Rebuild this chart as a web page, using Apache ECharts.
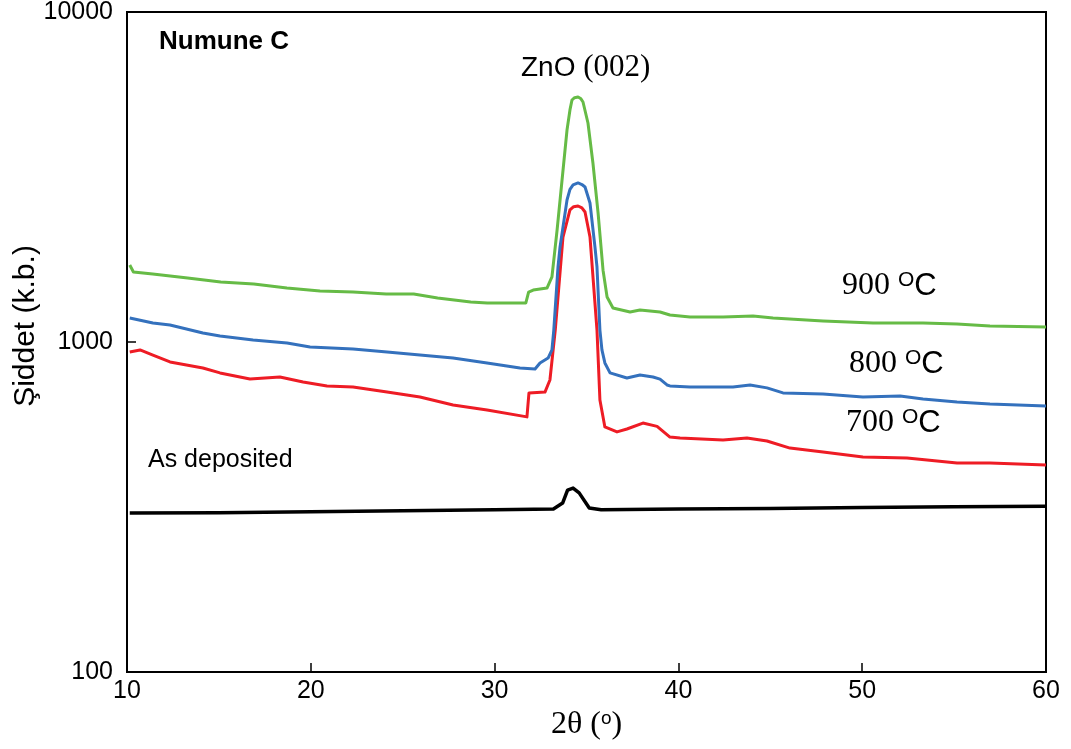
<!DOCTYPE html>
<html>
<head>
<meta charset="utf-8">
<script src="https://cdn.jsdelivr.net/npm/echarts@6/dist/echarts.min.js"></script>
<style>
	html,body{margin:0;padding:0;background:#fff;}
	#chart{width:1071px;height:749px;}
</style>
</head>
<body>
<div id="chart"></div>
<script>
'use strict'
// 2θ (derece), şiddet (k.b.)
let xTicks = [10, 20, 30, 40, 50, 60],
	yTicks = [100, 1000, 10000];

let s900 = [[10.15,1711],[10.35,1630],[11.4,1607],[13.3,1563],[15.1,1520],[16.9,1499],[18.7,1457],[20.5,1427],[22.3,1417],[24.1,1398],[25.6,1398],[26.9,1360],[28.7,1322],[29.6,1313],[31.7,1313],[31.85,1417],[32.1,1437],[32.85,1457],[33.12,1574],[33.4,2185],[33.67,3097],[33.94,4390],[34.1,5050],[34.21,5412],[34.35,5500],[34.54,5526],[34.68,5470],[34.81,5337],[35.08,4610],[35.35,3487],[35.63,2460],[35.9,1650],[36.12,1369],[36.44,1268],[37.37,1233],[37.91,1250],[39.0,1233],[39.54,1207],[40.63,1191],[42.43,1191],[44.06,1199],[45.15,1182],[47.87,1158],[50.59,1142],[53.31,1142],[55.16,1134],[56.95,1118],[60,1110]];

let s800 = [[10.15,1182],[11.41,1142],[12.34,1126],[14.13,1065],[15.06,1043],[16.86,1014],[18.71,993],[19.96,966],[22.3,952],[24.15,933],[25.94,913],[27.74,894],[29.59,864],[31.38,834],[32.2,828],[32.47,864],[32.91,894],[33.12,946],[33.22,1087],[33.45,1688],[33.56,1941],[33.94,2693],[34.1,2900],[34.27,2991],[34.54,3033],[34.75,3000],[34.92,2950],[35.19,2638],[35.46,1941],[35.57,1688],[35.73,1087],[35.84,946],[36.0,864],[36.28,806],[37.2,778],[37.91,794],[38.62,783],[39.0,772],[39.38,741],[39.54,736],[40.63,731],[42.97,731],[43.9,741],[44.82,726],[45.69,701],[47.87,696],[50.04,681],[52.06,686],[53.31,672],[55.16,658],[56.95,649],[60,640]];

let s700 = [[10.15,933],[10.71,946],[11.41,913],[12.34,870],[14.13,834],[15.06,806],[16.69,772],[18.32,783],[19.58,756],[20.88,736],[22.3,731],[24.15,705],[25.94,681],[27.74,644],[29.59,622],[31.76,593],[31.87,701],[32.74,705],[33.01,767],[33.3,1087],[33.72,2080],[34.1,2512],[34.3,2570],[34.54,2583],[34.75,2550],[34.92,2477],[35.19,2080],[35.57,1087],[35.73,667],[36.0,553],[36.66,534],[37.2,545],[38.07,568],[38.84,555],[39.54,515],[40.09,512],[42.43,505],[43.73,512],[44.82,501],[46.07,477],[47.87,464],[50.04,448],[52.44,445],[55.16,430],[56.95,430],[60,424]];

let sDep = [[10.15,303],[15,304],[20,306],[25,308],[30,310],[33.2,312],[33.7,325],[33.97,356],[34.27,361],[34.6,349],[35.15,314],[35.8,310],[40,312],[45,313],[50,315],[55,317],[60,318]];

let sans = 'Liberation Sans',
	serif = 'Liberation Serif';

let chart = echarts.init(document.getElementById('chart'));

function lineSeries(name, data, color, width){
	return {
		name: name,
		type: 'line',
		data: data,
		showSymbol: false,
		symbol: 'none',
		smooth: false,
		animation: false,
		lineStyle: {color: color, width: width, join: 'round'},
		z: 3
	}
}

// sıcaklık etiketi (üst simge O)
function tempLabel(txt, x, y){
	return {
		type: 'text',
		x: x, y: y,
		style: {
			text: `{n|${txt} }{s|O}{c|C}`,
			rich: {
				n: {fontFamily: serif, fontSize: 32, fill: '#000', verticalAlign: 'bottom'},
				s: {fontFamily: sans, fontSize: 21, fill: '#000', verticalAlign: 'top'},
				c: {fontFamily: sans, fontSize: 31, fill: '#000', verticalAlign: 'bottom'}
			},
			verticalAlign: 'middle'
		}
	}
}

let option = {
	backgroundColor: '#fff',
	animation: false,
	grid: {
		left: 127, right: 25, top: 12, bottom: 77,
		show: true,
		borderColor: '#000',
		borderWidth: 2,
		containLabel: false,
		outerBoundsMode: 'none'
	},
	xAxis: {
		type: 'value',
		min: xTicks[0],
		max: xTicks[xTicks.length-1],
		interval: 10,
		name: '{a|2θ (}{b|o}{a|)}',
		nameLocation: 'middle',
		nameGap: 32,
		nameTextStyle: {
			rich: {
				a: {fontFamily: serif, fontSize: 32, color: '#000', verticalAlign: 'bottom'},
				b: {fontFamily: sans, fontSize: 19, color: '#000', verticalAlign: 'top'}
			}
		},
		axisLine: {show: true, lineStyle: {color: '#000', width: 2}},
		axisTick: {show: true, inside: true, length: 9, lineStyle: {color: '#000', width: 1.5}},
		axisLabel: {fontFamily: sans, fontSize: 25, color: '#000', margin: 7},
		splitLine: {show: false}
	},
	yAxis: {
		type: 'log',
		logBase: 10,
		min: yTicks[0],
		max: yTicks[yTicks.length-1],
		axisLine: {show: true, lineStyle: {color: '#000', width: 2}},
		axisTick: {show: true, inside: true, length: 9, lineStyle: {color: '#000', width: 1.5}},
		minorTick: {show: false},
		axisLabel: {
			fontFamily: sans, fontSize: 25, color: '#000', margin: 14,
			formatter: (v)=> String(Math.round(v))
		},
		splitLine: {show: false}
	},
	series: [
		lineSeries('As deposited', sDep, '#000000', 3.5),
		lineSeries('700 oC', s700, '#ee1c25', 3),
		lineSeries('800 oC', s800, '#3471bd', 3),
		lineSeries('900 oC', s900, '#66bb46', 3)
	],
	graphic: [
		{
			// y ekseni başlığı
			type: 'text', x: 26, y: 326, rotation: Math.PI/2,
			style: {text: 'Şiddet (k.b.)', fontFamily: sans, fontSize: 30, fill: '#000', align: 'center', verticalAlign: 'middle'}
		},
		{
			type: 'text', x: 159, y: 42,
			style: {text: 'Numune C', fontFamily: sans, fontWeight: 'bold', fontSize: 26, fill: '#000', verticalAlign: 'middle'}
		},
		{
			type: 'text', x: 521, y: 68,
			style: {
				text: '{a|ZnO }{b|(002)}',
				rich: {
					a: {fontFamily: sans, fontSize: 28, fill: '#000'},
					b: {fontFamily: serif, fontSize: 31, fill: '#000'}
				},
				verticalAlign: 'middle'
			}
		},
		{
			type: 'text', x: 148, y: 460,
			style: {text: 'As deposited', fontFamily: sans, fontSize: 25, fill: '#000', verticalAlign: 'middle'}
		},
		tempLabel('900', 842, 286),
		tempLabel('800', 849, 364),
		tempLabel('700', 846, 423)
	]
};
chart.setOption(option);
</script>
</body>
</html>
